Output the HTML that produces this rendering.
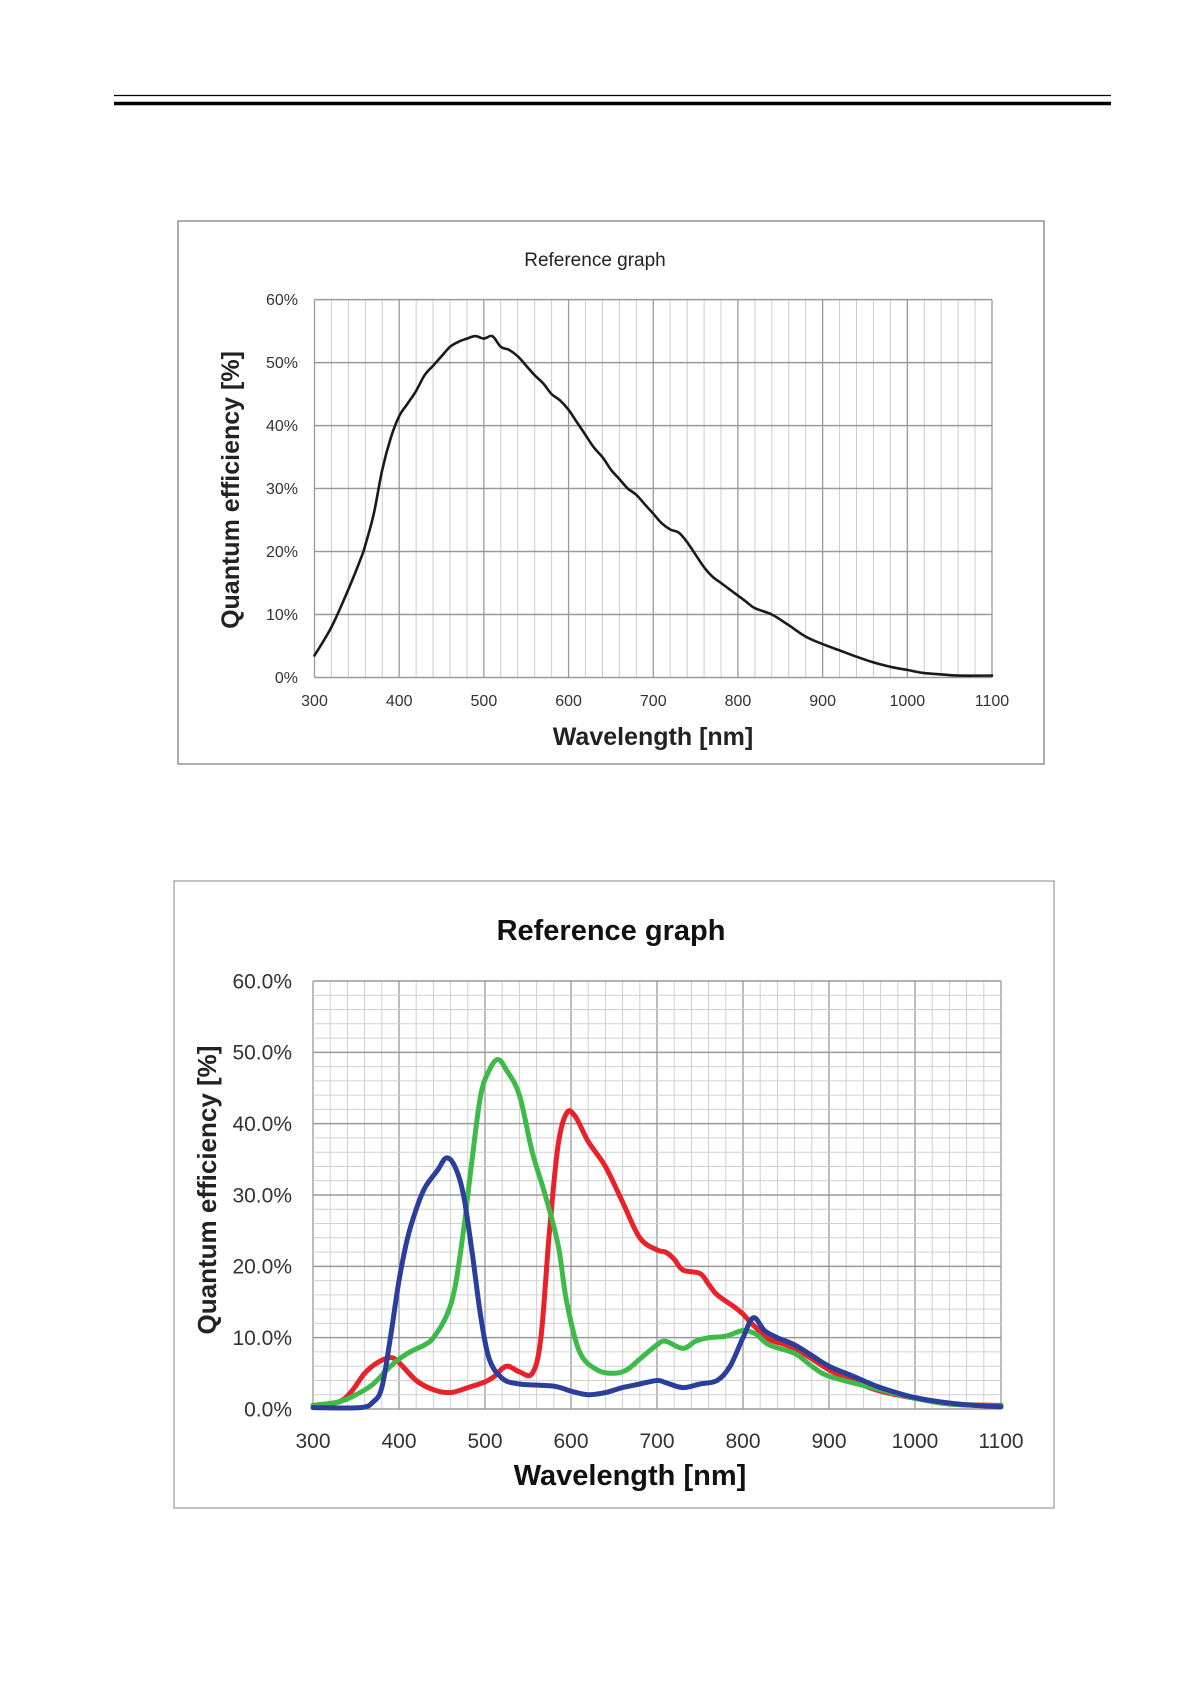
<!DOCTYPE html>
<html><head><meta charset="utf-8"><style>
html,body{margin:0;padding:0;background:#fff;}
svg{display:block;}
</style></head><body>
<svg id="s" width="1191" height="1685" viewBox="0 0 1191 1685" xmlns="http://www.w3.org/2000/svg" font-family="Liberation Sans Narrow, Liberation Sans, sans-serif">
<rect width="1191" height="1685" fill="#fff"/>
<line x1="114" y1="95.5" x2="1111" y2="95.5" stroke="#000" stroke-width="1.2"/>
<line x1="114" y1="103.5" x2="1111" y2="103.5" stroke="#000" stroke-width="3.5"/>
<rect x="178" y="221" width="866" height="543" fill="none" stroke="#777" stroke-width="1.2"/>
<rect x="174" y="881" width="880" height="627" fill="none" stroke="#999" stroke-width="1.2"/>
<g id="g1"></g><g id="g2"></g>
<text x="595" y="266" font-size="19" text-anchor="middle" fill="#222">Reference graph</text>
<text x="653" y="745" font-size="25" font-weight="bold" text-anchor="middle" fill="#222">Wavelength [nm]</text>
<text transform="translate(239,490) rotate(-90)" font-family="Liberation Sans, sans-serif" font-size="25" font-weight="bold" text-anchor="middle" fill="#222">Quantum efficiency [%]</text>
<text x="611" y="940" font-size="29" font-weight="bold" text-anchor="middle" fill="#111">Reference graph</text>
<text x="630" y="1485" font-size="29" font-weight="bold" text-anchor="middle" fill="#111">Wavelength [nm]</text>
<text transform="translate(216,1190) rotate(-90)" font-family="Liberation Sans, sans-serif" font-size="26" font-weight="bold" text-anchor="middle" fill="#222">Quantum efficiency [%]</text>
</svg>
<script>
var NS="http://www.w3.org/2000/svg";
function el(p,t,a,txt){var e=document.createElementNS(NS,t);for(var k in a)e.setAttribute(k,a[k]);if(txt!=null)e.textContent=txt;p.appendChild(e);return e;}
function smooth(pts){var d="M"+pts[0][0].toFixed(1)+","+pts[0][1].toFixed(1);
for(var i=0;i<pts.length-1;i++){var p0=pts[Math.max(0,i-1)],p1=pts[i],p2=pts[i+1],p3=pts[Math.min(pts.length-1,i+2)];
var c1x=p1[0]+(p2[0]-p0[0])/6,c1y=p1[1]+(p2[1]-p0[1])/6,c2x=p2[0]-(p3[0]-p1[0])/6,c2y=p2[1]-(p3[1]-p1[1])/6;
d+=" C"+c1x.toFixed(1)+","+c1y.toFixed(1)+" "+c2x.toFixed(1)+","+c2y.toFixed(1)+" "+p2[0].toFixed(1)+","+p2[1].toFixed(1);}return d;}
function chart(g,o){
var X=function(w){return o.x0+(w-300)/800*(o.x1-o.x0)},Y=function(v){return o.y0-v/60*(o.y0-o.y1)};
for(var w=300;w<=1100;w+=20){var maj=(w%100==0);el(g,"line",{x1:X(w),x2:X(w),y1:o.y1,y2:o.y0,stroke:maj?o.majc:o.minc,"stroke-width":maj?1.3:1});}
for(var v=0;v<=60;v+=o.hstep){var maj=(v%10==0);el(g,"line",{x1:X(300),x2:X(1100),y1:Y(v),y2:Y(v),stroke:maj?o.majc:o.minc,"stroke-width":maj?1.5:1});}
for(var v=0;v<=60;v+=10)el(g,"text",{x:o.lx,y:Y(v)+o.fs*0.35,"font-size":o.fs,"text-anchor":"end",fill:"#333"},o.fmt(v));
for(var w=300;w<=1100;w+=100)el(g,"text",{x:X(w),y:o.ty,"font-size":o.fs,"text-anchor":"middle",fill:"#333"},w);
o.series.forEach(function(s){var pts=[];for(var i=0;i<s.d.length;i+=2)pts.push([X(s.d[i]),Y(s.d[i+1])]);
el(g,"path",{d:smooth(pts),fill:"none",stroke:s.c,"stroke-width":o.lw,"stroke-linejoin":"round","stroke-linecap":"round"});});}
var k=[300,3.5,320,8,340,14,355,19,360,21,370,26,380,33,390,38,400,41.5,410,43.5,420,45.5,430,48,440,49.5,450,51,460,52.5,470,53.3,480,53.8,490,54.2,500,53.8,510,54.2,520,52.5,530,52,540,51,550,49.5,560,48,570,46.7,580,45,590,44,600,42.5,610,40.5,620,38.5,630,36.5,640,35,650,33,660,31.5,670,30,680,29,690,27.5,700,26,710,24.5,720,23.5,730,23,740,21.5,750,19.5,760,17.5,770,16,780,15,790,14,800,13,810,12,820,11,840,10,860,8.3,880,6.5,900,5.3,920,4.3,940,3.3,960,2.4,980,1.7,1000,1.2,1020,0.7,1040,0.5,1060,0.3,1100,0.3];
chart(document.getElementById("g1"),{x0:314.5,x1:992,y0:677.5,y1:299.6,hstep:10,majc:"#999",minc:"#ccc",lx:298,ty:706,fs:16,fmt:function(v){return v+"%"},lw:2.6,series:[{c:"#1a1a1a",d:k}]});
var r=[300,0.5,330,1,345,2.5,360,5,375,6.5,390,7.2,400,6.5,420,4,440,2.7,460,2.3,480,3,500,3.8,510,4.5,525,6,540,5.2,555,5,565,10,575,25,585,37,595,41.5,605,41,620,37.5,640,34,660,29,680,24,700,22.3,710,22,720,21,730,19.5,750,19,760,17.5,770,16,790,14.3,800,13.3,810,12,830,9.8,850,9,870,7.8,900,5.5,930,3.8,960,2.5,1000,1.5,1040,0.7,1100,0.5];
var gr=[300,0.5,330,1,350,2,370,3.5,390,6,410,7.8,430,9,440,10,455,13,465,17,475,25,485,35,495,44,505,47.5,515,49,525,47.5,540,44,555,36,570,30,585,23,595,15,610,8,630,5.5,650,5,665,5.5,680,7,700,9,710,9.5,730,8.5,745,9.5,760,10,780,10.2,800,11,815,10.5,830,9,860,7.8,880,6,900,4.6,950,3,1000,1.5,1040,0.7,1100,0.4];
var b=[300,0.2,355,0.2,370,1,380,3,390,10,400,18,410,24,420,28,430,31,445,33.5,455,35.2,465,34,475,30,485,22,495,13,505,7,520,4.3,540,3.5,580,3.2,600,2.5,620,2,640,2.3,660,3,680,3.5,700,4,710,3.7,730,3,750,3.5,770,4,785,6,800,10,812,12.8,825,11,840,10,860,9,880,7.5,900,6,930,4.5,960,3,1000,1.6,1050,0.7,1100,0.3];
chart(document.getElementById("g2"),{x0:313,x1:1001,y0:1409,y1:981,hstep:2,majc:"#999",minc:"#d0d0d0",lx:292,ty:1448,fs:21,fmt:function(v){return v.toFixed(1)+"%"},lw:5,series:[{c:"#e8212a",d:r},{c:"#3dba4a",d:gr},{c:"#2b3f9a",d:b}]});
</script>
</body></html>
